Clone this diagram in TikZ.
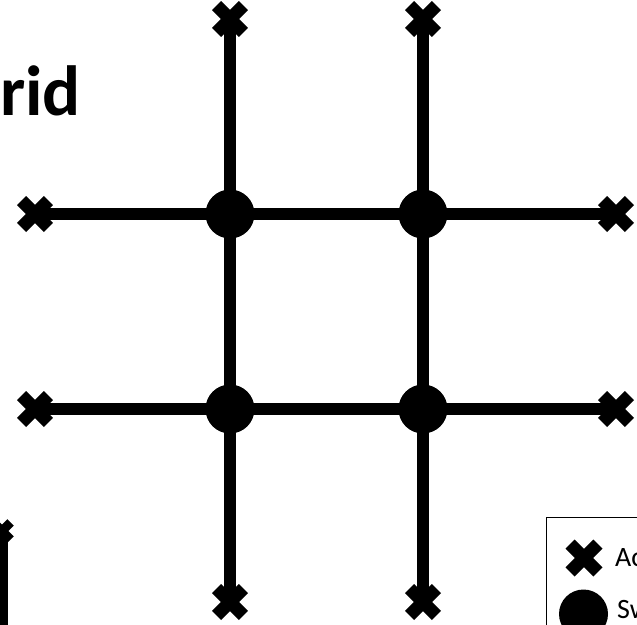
\documentclass[tikz,border=0pt]{standalone}
\usepackage{fontspec}
\setmainfont{Carlito}
\tikzset{
  gridline/.style={line width=12pt},
  switchnode/.style={circle,fill=black,inner sep=0pt,minimum size=48pt},
  endnode/.style={circle,inner sep=0pt,minimum size=34pt},
  xstroke/.style={line width=12.5pt,line cap=butt},
  legendtext/.style={anchor=base west,inner sep=0pt,font=\fontsize{28pt}{30pt}\selectfont}
}
% heavy X mark drawn over a named node: #1 node, #2 half diagonal, #3 stroke width
\newcommand\heavyx[3]{%
  \draw[xstroke,line width=#3] ([shift={(-#2,-#2)}]#1.center) -- ([shift={(#2,#2)}]#1.center);
  \draw[xstroke,line width=#3] ([shift={(-#2,#2)}]#1.center) -- ([shift={(#2,-#2)}]#1.center);}
\begin{document}
\begin{tikzpicture}[x=1pt,y=-1pt]
  \useasboundingbox (0,0) rectangle (637,624);
  \clip (0,0) rectangle (637,624);

  % title
  \node[anchor=base east,inner sep=0pt,font=\bfseries\fontsize{71pt}{75pt}\selectfont] (title) at (81,115) {Grid};

  % switches
  \node[switchnode] (s11) at (230,214) {};
  \node[switchnode] (s12) at (423,214) {};
  \node[switchnode] (s21) at (230,409) {};
  \node[switchnode] (s22) at (423,409) {};

  % line ends
  \node[endnode] (t1) at (230,19) {};
  \node[endnode] (t2) at (423,19) {};
  \node[endnode] (b1) at (230,602) {};
  \node[endnode] (b2) at (423,602) {};
  \node[endnode] (l1) at (35,214) {};
  \node[endnode] (l2) at (35,409) {};
  \node[endnode] (r1) at (616,214) {};
  \node[endnode] (r2) at (616,409) {};

  % grid lines
  \draw[gridline] (l1.center) -- (s11.center) -- (s12.center) -- (r1.center);
  \draw[gridline] (l2.center) -- (s21.center) -- (s22.center) -- (r2.center);
  \draw[gridline] (t1.center) -- (s11.center) -- (s21.center) -- (b1.center);
  \draw[gridline] (t2.center) -- (s12.center) -- (s22.center) -- (b2.center);

  \foreach \n in {t1,t2,b1,b2,l1,l2,r1,r2} {\heavyx{\n}{13.4}{13pt}}
  \foreach \n in {s11,s12,s21,s22} {\fill (\n) circle (24.5pt);}

  % neighbouring branch at the lower left
  \node[endnode,minimum size=24pt] (e1) at (2,531) {};
  \coordinate (e2) at (2,640);
  \draw[gridline] (e1.center) -- (e2);
  \heavyx{e1}{8.6}{9pt}

  % legend
  \draw[line width=1pt] (546,517) rectangle (680,680);
  \node[endnode,minimum size=37pt] (lx) at (584,558) {};
  \heavyx{lx}{13.9}{13pt}
  \node[switchnode,minimum size=49pt] (lo) at (583.5,614) {};
  \node[legendtext] (lxt) at (615,566) {Access point};
  \node[legendtext] (lot) at (617,618) {Switch};
\end{tikzpicture}
\end{document}
